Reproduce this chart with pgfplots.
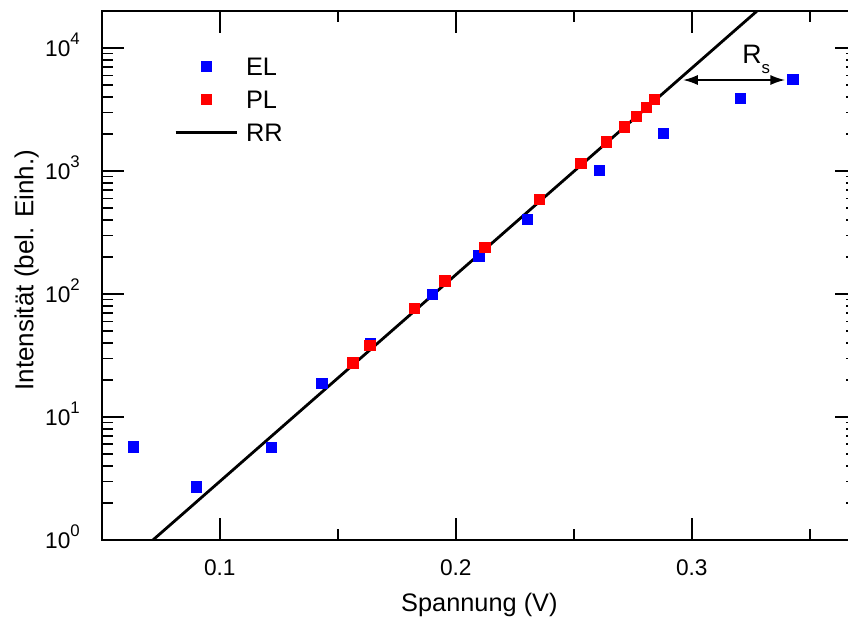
\documentclass[border=0pt]{standalone}
\usepackage{fontspec}
\setmainfont{Liberation Sans}
\usepackage{pgfplots}
\pgfplotsset{compat=1.18}
\usetikzlibrary{arrows.meta}
\newcommand{\tex}[1]{10\raisebox{8.8pt}{\fontsize{12.6}{13}\selectfont #1}}
\begin{document}
\begin{tikzpicture}
\begin{axis}[
  scale only axis,
  width=566.5pt, height=396.75pt,
  xmode=normal, ymode=log,
  xmin=0.05, xmax=0.37,
  ymin=1, ymax=20000,
  axis line style={line width=1.5pt},
  tick align=inside,
  major tick length=16.5pt,
  minor tick length=8.25pt,
  every tick/.style={black, line width=1.2pt},
  xtick={0.1,0.2,0.3},
  xticklabels={0.1,0.2,0.3},
  minor xtick={0.05,0.15,0.25,0.35},
  ytick={1,10,100,1000,10000},
  yticklabels={\tex{0},\tex{1},\tex{2},\tex{3},\tex{4}},
  xticklabel style={font=\fontsize{17}{20}\selectfont, anchor=base, inner sep=0pt, yshift=-26.25pt},
  yticklabel style={font=\fontsize{17}{20}\selectfont, anchor=base east, inner sep=0pt, xshift=-16.3pt, yshift=-6.5pt},
  xlabel={Spannung (V)},
  ylabel={Intensität (bel. Einh.)},
  xlabel style={font=\fontsize{19}{22}\selectfont, at={(axis description cs:0.5,-0.1355)}, anchor=base, inner sep=0pt},
  ylabel style={font=\fontsize{19.5}{22}\selectfont, at={(axis description cs:-0.0906,0.51)}, anchor=base, inner sep=0pt, rotate=0},
  legend cell align=left,
  legend image code/.code={\draw[mark repeat=2,mark phase=2,#1] plot coordinates {(0pt,0pt) (22.9pt,0pt) (45.75pt,0pt)};},
  legend style={at={(rel axis cs:0.0957,0.913)}, anchor=north west, draw=none, fill=none,
    font=\fontsize{19}{22}\selectfont, inner sep=0pt, row sep=11.15pt, column sep=6pt,
    nodes={inner sep=0pt, text height=13.6pt, text depth=0pt}},
]
\coordinate (sw) at (rel axis cs:0,0);
\addplot[black, line width=2.1pt, forget plot] coordinates {(0.065,0.772) (0.345,39200)};
\addplot[only marks, mark=square*, mark size=3.9pt, color=blue, mark options={line width=0.4pt}] coordinates {
(0.0634,5.74)
(0.0900,2.71)
(0.1217,5.7)
(0.1433,18.9)
(0.1637,39.5)
(0.1901,100)
(0.2097,204)
(0.2303,407)
(0.2607,1019)
(0.2880,2025)
(0.3206,3900)
(0.3428,5570)
};
\addlegendentry{EL}
\addplot[only marks, mark=square*, mark size=3.9pt, color=red, mark options={line width=0.4pt}] coordinates {
(0.1564,27.6)
(0.1636,38.3)
(0.1825,76.9)
(0.1953,128)
(0.2123,240)
(0.2353,592)
(0.2530,1155)
(0.2637,1730)
(0.2714,2292)
(0.2764,2800)
(0.2806,3296)
(0.2842,3830)
};
\addlegendentry{PL}
\addlegendimage{black, line width=2.1pt}
\addlegendentry{RR}
\draw[{Latex[length=11pt,width=7.5pt]}-{Latex[length=11pt,width=7.5pt]}, line width=1.2pt] (axis cs:0.2963,5495) -- (axis cs:0.3395,5495);
\node[anchor=base west, inner sep=0pt, font=\fontsize{20}{22}\selectfont] at (axis cs:0.3213,7551) {R\raisebox{-8pt}{\fontsize{12.6}{13}\selectfont s}};
\end{axis}
\pgfresetboundingbox
\path[use as bounding box] ([shift={(-76.3pt,-59.25pt)}]sw) rectangle ([shift={(559.7pt,405pt)}]sw);
\end{tikzpicture}
\end{document}
